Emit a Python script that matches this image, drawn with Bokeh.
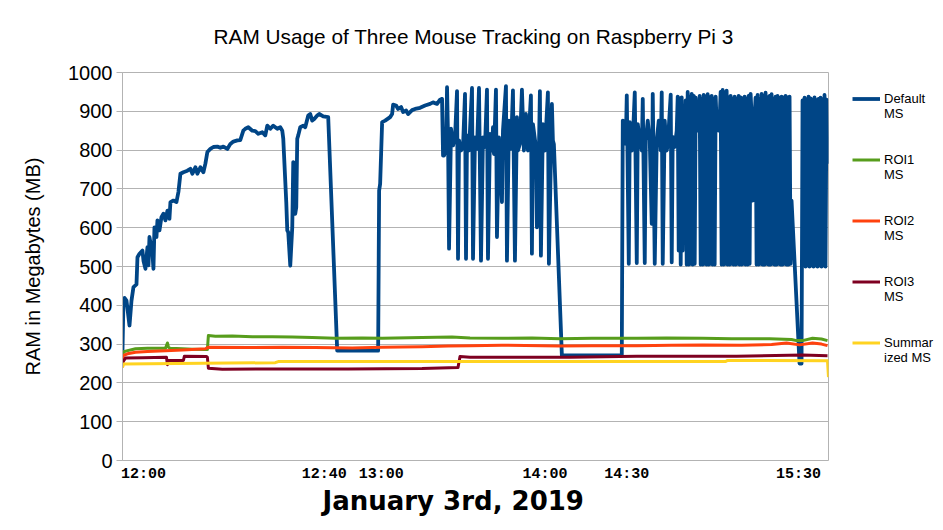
from bokeh.plotting import figure
from bokeh.models import Range1d, FixedTicker, Legend, LegendItem, Title
from bokeh.embed import file_html
from bokeh.resources import INLINE

# ---------------- data (x = sample position, y = RAM in MB) ----------------
tick_positions = [21, 202, 259, 423, 505, 677]
tick_labels = ["12:00", "12:40", "13:00", "14:00", "14:30", "15:30"]
y_ticks = [0, 100, 200, 300, 400, 500, 600, 700, 800, 900, 1000]

default_x = [0, 1, 2, 4, 7, 9, 11, 14, 15, 17, 20, 21, 23, 25, 26, 27, 30, 31, 32, 34, 35, 37, 39, 41, 43, 45, 47, 48,
             51, 54, 56, 58, 61, 65, 68, 70, 73, 75, 78, 81, 83, 85, 88, 91, 95, 98, 101, 105, 108, 111, 115, 118,
             121, 123, 126, 130, 133, 136, 140, 143, 145, 148, 151, 155, 158, 160, 161, 164, 165, 166, 168, 170,
             171, 172, 173, 174, 175, 176, 178, 181, 183, 186, 188, 190, 192, 195, 197, 201, 206, 215, 256, 257,
             258, 260, 263, 268, 270, 271, 274, 276, 279, 281, 284, 286, 290, 293, 298, 303, 308, 311, 315, 318,
             320, 321, 322, 324, 325, 326, 327, 329, 331, 333, 335, 336, 337, 339, 341, 343, 344, 345, 347, 350,
             351, 353, 355, 357, 359, 361, 363, 365, 366, 368, 370, 371, 372, 374, 375, 377, 380, 381, 384, 385,
             387, 389, 391, 393, 395, 396, 398, 400, 402, 404, 406, 409, 410, 411, 414, 415, 417, 418, 419, 421,
             423, 426, 427, 430, 431, 432, 440, 500, 501, 502, 504, 505, 507, 508, 510, 511, 513, 515, 516, 518,
             520, 521, 523, 524, 526, 528, 530, 531, 533, 535, 537, 539, 540, 541, 543, 545, 546, 549, 550, 551,
             553, 555, 556, 557, 558, 559, 560, 561, 562, 563, 564, 565, 566, 567, 568, 569, 570, 571, 572, 573,
             574, 575, 576, 577, 578, 579, 580, 581, 582, 583, 584, 585, 586, 587, 588, 589, 590, 591, 592, 593,
             594, 595, 596, 597, 598, 599, 600, 601, 602, 603, 604, 605, 606, 607, 608, 609, 610, 611, 612, 613,
             614, 615, 616, 617, 618, 619, 620, 621, 622, 623, 624, 625, 626, 627, 628, 629, 630, 631, 632, 633,
             634, 635, 636, 637, 638, 639, 640, 641, 642, 643, 644, 645, 646, 647, 648, 649, 650, 651, 652, 653,
             654, 655, 656, 657, 658, 659, 660, 661, 662, 663, 664, 665, 666, 667, 668, 669, 670, 678, 680, 681,
             682, 683, 684, 685, 686, 687, 688, 689, 690, 691, 692, 693, 694, 695, 696, 697, 698, 699, 700, 701,
             702, 703, 704, 705, 706]
default_y = [283, 415, 419, 412, 348, 412, 447, 454, 524, 533, 541, 515, 494, 550, 503, 576, 533, 494, 601, 576, 619,
             593, 627, 636, 619, 644, 623, 666, 670, 666, 692, 739, 743, 747, 752, 739, 756, 739, 756, 743, 765, 795,
             803, 808, 809, 806, 809, 803, 816, 822, 825, 826, 850, 855, 859, 850, 849, 842, 846, 838, 863, 855, 863,
             855, 859, 850, 829, 666, 593, 588, 502, 601, 769, 765, 636, 653, 829, 838, 859, 863, 859, 889, 893, 876,
             880, 889, 893, 887, 885, 283, 283, 696, 713, 872, 876, 885, 893, 917, 915, 906, 911, 898, 902, 893, 903,
             906, 909, 915, 919, 923, 919, 930, 932, 786, 786, 807, 962, 833, 546, 855, 812, 833, 952, 520, 825, 799,
             808, 945, 520, 838, 799, 960, 520, 833, 803, 960, 515, 833, 808, 956, 520, 842, 799, 859, 790, 956, 576,
             833, 666, 850, 965, 515, 876, 803, 954, 515, 885, 799, 816, 956, 799, 893, 799, 941, 533, 867, 808, 601,
             799, 952, 528, 867, 799, 949, 507, 919, 825, 815, 271, 271, 876, 867, 816, 941, 507, 872, 799, 825, 949,
             509, 867, 825, 799, 932, 509, 825, 876, 825, 610, 945, 507, 825, 876, 799, 949, 507, 876, 799, 812, 943,
             511, 834, 808, 850, 938, 541, 933, 505, 936, 541, 850, 848, 928, 505, 950, 505, 936, 507, 945, 505, 940,
             507, 935, 850, 852, 850, 940, 505, 930, 505, 942, 507, 938, 505, 944, 505, 936, 507, 940, 505, 930, 505,
             938, 870, 893, 850, 880, 950, 505, 955, 505, 948, 507, 953, 505, 935, 505, 940, 507, 930, 505, 938, 505,
             932, 507, 940, 505, 936, 505, 933, 507, 938, 505, 930, 505, 940, 507, 945, 890, 670, 880, 890, 935, 505,
             942, 505, 930, 507, 945, 505, 938, 505, 948, 507, 935, 505, 940, 505, 944, 507, 930, 505, 938, 505, 940,
             507, 933, 505, 938, 505, 935, 507, 940, 505, 936, 505, 938, 507, 670, 250, 250, 928, 505, 935, 500, 930,
             502, 938, 500, 933, 502, 930, 500, 936, 502, 928, 500, 932, 502, 935, 500, 930, 502, 942, 500, 930, 765]

roi1_x = [0, 2, 8, 13, 25, 43, 45, 46, 48, 60, 70, 83, 85, 86, 93, 110, 130, 150, 170, 190, 213, 240, 260, 300,
          330, 348, 381, 410, 438, 470, 515, 545, 581, 610, 648, 670, 675, 681, 691, 700, 706]
roi1_y = [275, 281, 285, 288, 289, 289, 303, 292, 289, 288, 287, 286, 286, 322, 320, 321, 319, 319, 318, 317, 315,
          316, 315, 317, 318, 316, 315, 316, 314, 315, 315, 316, 315, 314, 314, 312, 309, 309, 315, 313, 309]

roi2_x = [0, 1, 5, 13, 25, 43, 60, 83, 86, 126, 160, 193, 230, 260, 300, 326, 348, 380, 438, 470, 515, 550, 581,
          620, 650, 665, 678, 691, 700, 706]
roi2_y = [240, 271, 275, 279, 281, 283, 285, 288, 292, 291, 292, 291, 290, 292, 293, 295, 296, 297, 295, 296, 296,
          297, 298, 297, 299, 303, 298, 303, 300, 296]

roi3_x = [0, 3, 20, 44, 45, 46, 61, 62, 84, 85, 86, 100, 160, 226, 300, 336, 338, 348, 448, 515, 615, 681, 706]
roi3_y = [253, 264, 265, 266, 247, 258, 258, 269, 268, 266, 238, 235, 236, 236, 237, 240, 268, 266, 266, 269, 269,
          272, 270]

summ_x = [0, 1, 153, 156, 348, 604, 606, 706, 707]
summ_y = [240, 249, 252, 255, 255, 255, 258, 257, 215]

series_names = ["Default\nMS", "ROI1\nMS", "ROI2\nMS", "ROI3\nMS", "Summar\nized MS"]
colors = ["#004586", "#579d1c", "#ff420e", "#7e0021", "#ffd320"]

GRID = "#b3b3b3"

p = figure(frame_width=706, frame_height=388, output_backend="svg", toolbar_location=None,
           x_range=Range1d(0, 707), y_range=Range1d(0, 1000),
           min_border_left=122, min_border_right=107, min_border_top=72, min_border_bottom=62,
           background_fill_color="white", border_fill_color="white")

p.title.text = "RAM Usage of Three Mouse Tracking on Raspberry Pi 3"
p.title.align = "left"
p.title.offset = 91
p.title.vertical_align = "top"
p.title.text_font = "Liberation Sans"
p.title.text_font_size = "20.8px"
p.title.text_font_style = "normal"
p.title.text_color = "black"
p.title.standoff = 46

p.outline_line_color = GRID
p.outline_line_width = 1
p.xgrid.visible = False
p.ygrid.grid_line_color = GRID
p.ygrid.grid_line_width = 1

p.yaxis.ticker = FixedTicker(ticks=y_ticks)
p.yaxis.axis_label = "RAM in Megabytes (MB)"
p.yaxis.axis_label_text_font = "Liberation Sans"
p.yaxis.axis_label_text_font_size = "20px"
p.yaxis.axis_label_text_font_style = "normal"
p.yaxis.axis_label_text_color = "black"
p.yaxis.axis_label_standoff = 21
p.yaxis.major_label_text_font = "Liberation Sans"
p.yaxis.major_label_text_font_size = "20px"
p.yaxis.major_label_text_color = "black"
p.yaxis.major_label_standoff = 4
p.yaxis.axis_line_color = GRID
p.yaxis.major_tick_line_color = GRID
p.yaxis.major_tick_out = 6
p.yaxis.major_tick_in = 0
p.yaxis.minor_tick_line_color = None

p.xaxis.ticker = FixedTicker(ticks=tick_positions)
p.xaxis.major_label_overrides = {t: lab for t, lab in zip(tick_positions, tick_labels)}
p.xaxis.major_label_text_font = "Liberation Mono"
p.xaxis.major_label_text_font_style = "bold"
p.xaxis.major_label_text_font_size = "15px"
p.xaxis.major_label_text_color = "black"
p.xaxis.major_label_standoff = 5
p.xaxis.major_tick_out = 0
p.xaxis.major_tick_in = 0
p.xaxis.minor_tick_out = 0
p.xaxis.minor_tick_in = 0
p.xaxis.axis_line_color = None
p.xaxis.major_tick_line_color = None
p.xaxis.minor_tick_line_color = None

all_x = [default_x, roi1_x, roi2_x, roi3_x, summ_x]
all_y = [default_y, roi1_y, roi2_y, roi3_y, summ_y]
widths = [3.8, 3, 3, 3, 3]
items = []
for xs, ys, name, col, w in zip(all_x, all_y, series_names, colors, widths):
    r = p.line(xs, ys, line_color=col, line_width=w, line_join="round")
    items.append(LegendItem(label=" \n" + name, renderers=[r]))

legend = Legend(items=items, location=(24, 95))
legend.border_line_color = None
legend.background_fill_alpha = 0
legend.label_text_font = "Liberation Sans"
legend.label_text_font_size = "13px"
legend.label_text_line_height = 1.15
legend.label_text_color = "black"
legend.glyph_width = 28
legend.glyph_height = 15
legend.label_standoff = 4
legend.spacing = 16
legend.padding = 0
legend.margin = 0
p.add_layout(legend, "right")

p.add_layout(Title(text="January 3rd, 2019", align="left", offset=200, standoff=0, vertical_align="top",
                   text_font="DejaVu Sans", text_font_style="bold", text_font_size="26px",
                   text_color="black"), "below")

open("out.html", "w").write(file_html(p, INLINE))
